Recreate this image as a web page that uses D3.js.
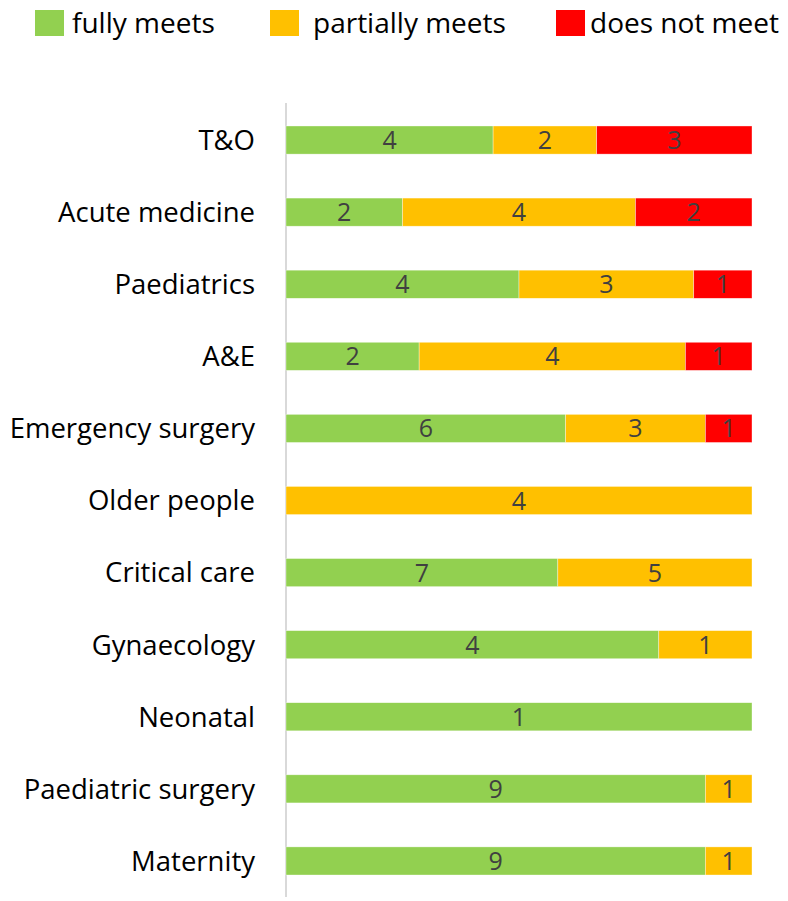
<!DOCTYPE html>
<html>
<head>
<meta charset="utf-8">
<script src="https://cdn.jsdelivr.net/npm/d3@7"></script>
<style>
  body { margin: 0; background: #fff; }
  text { font-family: "Open Sans", sans-serif; }
</style>
</head>
<body>
<script>
var categories = ['T&O','Acute medicine','Paediatrics','A&E','Emergency surgery','Older people',
  'Critical care','Gynaecology','Neonatal','Paediatric surgery','Maternity'];
var fullyMeets     = [4, 2, 4, 2, 6, 0, 7, 4, 1, 9, 9];
var partiallyMeets = [2, 4, 3, 4, 3, 4, 5, 1, 0, 1, 1];
var doesNotMeet    = [3, 2, 1, 1, 1, 0, 0, 0, 0, 0, 0];
var seriesNames = ['fully meets', 'partially meets', 'does not meet'];
var colors = ['#92D050', '#FFC000', '#FF0000'];

var W = 788, H = 901;
var svg = d3.select('body').append('svg').attr('width', W).attr('height', H);

var rows = categories.map(function(c, i){
  return {cat: c, s0: fullyMeets[i], s1: partiallyMeets[i], s2: doesNotMeet[i]};
});
var keys = ['s0','s1','s2'];
var stacked = d3.stack().keys(keys).offset(d3.stackOffsetExpand)(rows);

var x = d3.scaleLinear().domain([0,1]).range([286, 752]);
var y = d3.scaleBand().domain(categories).range([104, 897]).paddingInner(0.61).paddingOuter(0.305);

// axis line
svg.append('line').attr('x1',286).attr('x2',286).attr('y1',103).attr('y2',897)
  .style('stroke','#d9d9d9').style('stroke-width',2);

var layer = svg.selectAll('.layer').data(stacked).enter().append('g')
  .attr('class','layer').style('fill', function(d,i){ return colors[i]; });

layer.selectAll('rect').data(function(d){ return d.filter(function(p){ return p[1] > p[0]; }); })
  .enter().append('rect')
  .attr('x', function(d){ return x(d[0]); })
  .attr('width', function(d){ return x(d[1]) - x(d[0]); })
  .attr('y', function(d){ return y(d.data.cat); })
  .attr('height', y.bandwidth())
  .style('stroke','#fff').style('stroke-width',0.6).style('stroke-opacity',0.6);

layer.selectAll('.lbl').data(function(d){
    var k = d.key;
    return d.filter(function(p){ return p[1] > p[0]; }).map(function(p){ return {p:p, v:p.data[k]}; });
  })
  .enter().append('text')
  .attr('x', function(d){ return (x(d.p[0]) + x(d.p[1]))/2; })
  .attr('y', function(d){ return y(d.p.data.cat) + y.bandwidth()/2; })
  .attr('dy','0.36em')
  .attr('text-anchor','middle')
  .style('fill','#404040').style('font-size','25px')
  .text(function(d){ return d.v; });

// category labels
svg.selectAll('.cat').data(categories).enter().append('text')
  .attr('x', 255)
  .attr('y', function(d){ return y(d) + y.bandwidth()/2; })
  .attr('dy','0.36em')
  .attr('text-anchor','end')
  .style('font-size','27.5px').style('fill','#000')
  .text(function(d){ return d; });

// legend
var legX = [35, 270, 556];
var lg = svg.selectAll('.leg').data(seriesNames).enter().append('g')
  .attr('transform', function(d,i){ return 'translate(' + legX[i] + ',0)'; });
lg.append('rect').attr('x',0).attr('y',10).attr('width',29).attr('height',26)
  .style('fill', function(d,i){ return colors[i]; });
lg.append('text').attr('x', function(d,i){ return [37, 43, 34][i]; }).attr('y', 33)
  .style('font-size','28px').style('fill','#000')
  .text(function(d){ return d; });
</script>
</body>
</html>
